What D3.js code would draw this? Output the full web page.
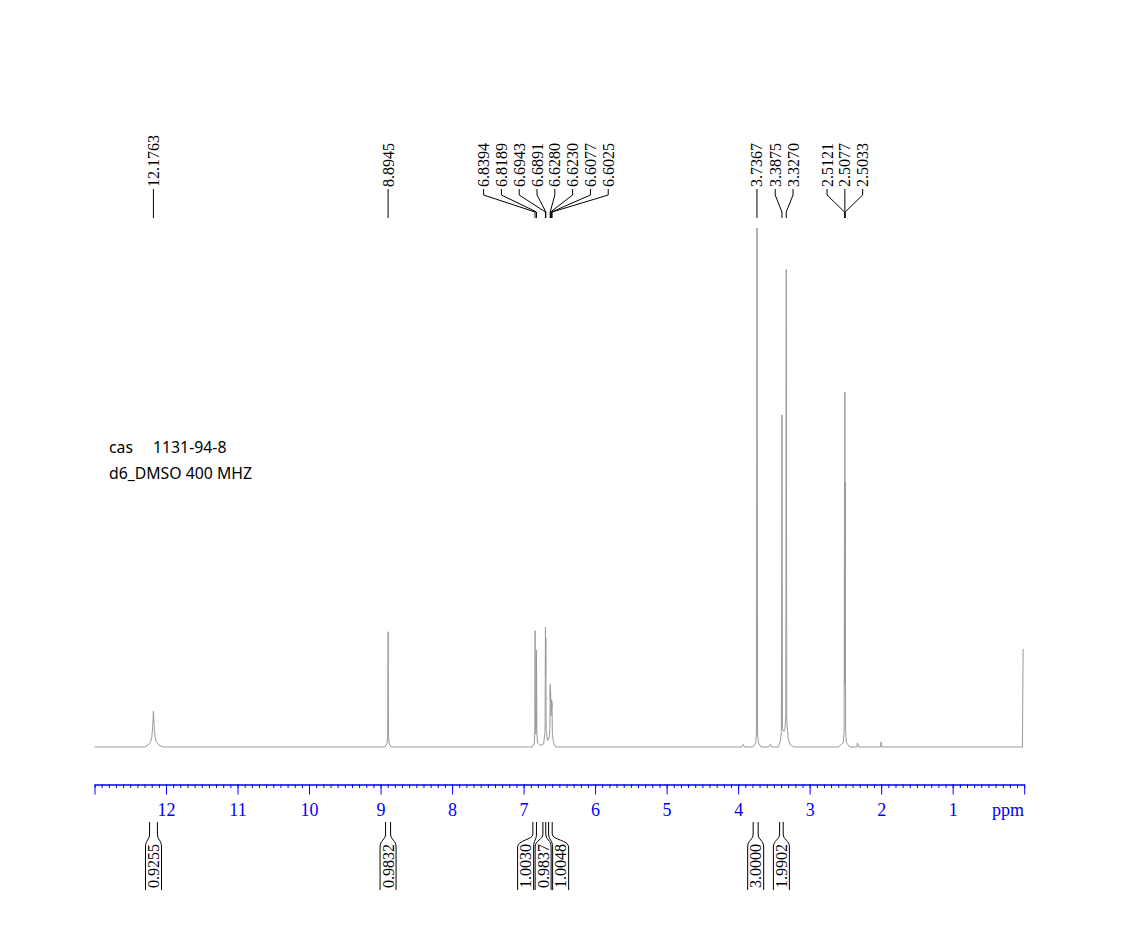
<!DOCTYPE html>
<html><head><meta charset="utf-8">
<script src="https://cdn.jsdelivr.net/npm/d3@7"></script>
<style>body{margin:0;background:#fff} svg{display:block}</style>
</head><body>
<svg id="c" width="1148" height="952"></svg>
<script>
// ---- data ----
const spectrum = [
 [13.00,0],[12.30,0],[12.25,0.4],[12.215,1.0],[12.198,2.0],[12.186,4],[12.176,6.9],[12.166,4],[12.154,2.0],[12.137,1.0],[12.10,0.4],[12.04,0],
 [8.94,0],[8.91,0.6],[8.90,2],[8.8945,22.2],[8.889,2],[8.878,0.6],[8.85,0],
 [6.88,0],[6.85,0.8],[6.843,3],[6.8394,22.4],[6.834,4],[6.8275,2.5],[6.822,4],[6.8189,18.7],[6.815,3],[6.805,0.8],[6.77,0.3],
 [6.72,0.6],[6.70,3],[6.6943,23.1],[6.6917,14],[6.6891,21],[6.684,3],[6.665,1.2],[6.64,2],[6.632,4],[6.6280,12.1],[6.6255,9],[6.6230,11],[6.616,6],[6.6077,9.1],[6.605,7.5],[6.6025,8.5],[6.598,2.5],[6.58,0.8],[6.55,0],
 [3.95,0],[3.93,0.5],[3.91,0],
 [3.79,0],[3.755,0.8],[3.745,2.5],[3.7367,100],[3.728,2.5],[3.716,0.8],[3.68,0],
 [3.57,0],[3.55,0.5],[3.53,0],
 [3.44,0],[3.41,1],[3.395,3],[3.3875,64],[3.380,3.5],[3.36,3],[3.345,3.5],[3.334,6],[3.3270,92],[3.320,5],[3.30,1.5],[3.27,0.4],[3.22,0],
 [2.60,0],[2.53,0.8],[2.518,3],[2.5121,51],[2.5099,12],[2.5077,68.4],[2.5055,12],[2.5033,51],[2.497,3],[2.485,0.8],[2.44,0],
 [2.345,0],[2.33,0.8],[2.315,0],
 [2.01,0],[2.0,1],[1.99,0],
 [0.025,0],[0.015,18.9]
];
const peakLabels = [12.1763, 8.8945, 6.8394, 6.8189, 6.6943, 6.6891, 6.6280, 6.6230, 6.6077, 6.6025, 3.7367, 3.3875, 3.3270, 2.5121, 2.5077, 2.5033];
const integralValues = ["0.9255","0.9832","1.0030","0.9837","1.0048","3.0000","1.9902"];
const integralFrom = [12.23, 8.93, 6.87, 6.73, 6.65, 3.79, 3.42];
const integralTo   = [12.12, 8.86, 6.82, 6.69, 6.60, 3.72, 3.37];
const axisMajorTicks = [13,12,11,10,9,8,7,6,5,4,3,2,1,0];
const axisTickLabels = ["","12","11","10","9","8","7","6","5","4","3","2","1",""];
const axisUnit = "ppm";
const annotationLine1 = ["cas", "1131-94-8"];
const annotationLine2 = "d6_DMSO 400 MHZ";

// ---- drawing ----
const svg = d3.select("#c");
const x = d3.scaleLinear().domain([13, 0]).range([94.5, 1024.2]);
const y = d3.scaleLinear().domain([0, 100]).range([747, 228]);
const serif = "'Liberation Serif','Times New Roman',serif";

// spectrum
svg.append("path")
  .datum(spectrum)
  .attr("fill","none")
  .attr("stroke","#9a9a9a")
  .attr("stroke-width",1)
  .attr("d", d3.line().x(d=>x(d[0])).y(d=>y(d[1])));

// axis
const axisY = 784.5;
const gMinor = svg.append("g").attr("transform",`translate(0,${axisY})`)
  .call(d3.axisBottom(x).tickValues(d3.range(0,131).map(i=>i/10)).tickSize(3.5).tickFormat("").tickSizeOuter(0));
const gMajor = svg.append("g").attr("transform",`translate(0,${axisY})`)
  .call(d3.axisBottom(x).tickValues(axisMajorTicks).tickSize(10).tickPadding(8.5)
        .tickFormat((d,i)=>axisTickLabels[i]).tickSizeOuter(0));
[gMinor,gMajor].forEach(g=>{
  g.selectAll("path,line").attr("stroke","#0000ff").attr("stroke-width",1);
  g.selectAll("text").attr("fill","#0000ff").style("font-family",serif).style("font-size","18px");
});
svg.append("text").attr("x",1024).attr("y",816).attr("text-anchor","end")
  .attr("fill","#0000ff").style("font-family",serif).style("font-size","18px").text(axisUnit);

// label spreading
function spread(targets, gap){
  let clusters = targets.map((t,i)=>({idx:[i], c:t}));
  let changed = true;
  while(changed){
    changed = false;
    clusters.sort((a,b)=>a.c-b.c);
    for(let k=0;k<clusters.length-1;k++){
      const a=clusters[k], b=clusters[k+1];
      const aEnd = a.c + (a.idx.length-1)/2*gap;
      const bStart = b.c - (b.idx.length-1)/2*gap;
      if(bStart - aEnd < gap - 0.01){
        const idx = a.idx.concat(b.idx);
        const c = d3.mean(idx, i=>targets[i]);
        clusters.splice(k,2,{idx, c});
        changed = true; break;
      }
    }
  }
  const out = new Array(targets.length);
  clusters.forEach(cl=>{
    const s = cl.idx.slice().sort((p,q)=>targets[p]-targets[q]);
    s.forEach((i,j)=>{ out[i] = cl.c + (j-(s.length-1)/2)*gap; });
  });
  return out;
}

// peak labels
const peakX = peakLabels.map(p=>x(p));
const peakLX = spread(peakX, 17.8);
const gP = svg.append("g");
peakLabels.forEach((p,i)=>{
  const lx = peakLX[i], px = peakX[i];
  gP.append("path").attr("fill","none").attr("stroke","#000").attr("stroke-width",1)
    .attr("d", `M${lx},189 V195 L${px},212 V218`);
  gP.append("text").attr("transform",`translate(${lx},187) rotate(-90)`)
    .attr("dominant-baseline","central").attr("text-anchor","start")
    .style("font-family",serif).style("font-size","16px").attr("fill","#000")
    .text(p.toFixed(4));
});

// integrals
const intC = integralFrom.map((f,i)=>(x(f)+x(integralTo[i]))/2);
const intLX = spread(intC, 17.5);
const gI = svg.append("g");
const hw = 8;
integralValues.forEach((v,i)=>{
  const x1 = x(integralFrom[i]), x2 = x(integralTo[i]), lx = intLX[i];
  gI.append("path").attr("fill","none").attr("stroke","#000").attr("stroke-width",1)
    .attr("d", `M${x1},822 V834 C${x1},840 ${lx-hw},840 ${lx-hw},847 V890`);
  gI.append("path").attr("fill","none").attr("stroke","#000").attr("stroke-width",1)
    .attr("d", `M${x2},822 V834 C${x2},840 ${lx+hw},840 ${lx+hw},847 V890`);
  gI.append("text").attr("transform",`translate(${lx},888) rotate(-90)`)
    .attr("dominant-baseline","central").attr("text-anchor","start")
    .style("font-family",serif).style("font-size","16px").attr("fill","#000")
    .text(v);
});

// annotation
const sans = "'Noto Sans','Open Sans',sans-serif";
const fs = "15.8px";
svg.append("text").attr("x",109).attr("y",453).style("font-family",sans).style("font-size",fs).text(annotationLine1[0]);
svg.append("text").attr("x",153).attr("y",453).style("font-family",sans).style("font-size",fs).text(annotationLine1[1]);
svg.append("text").attr("x",109).attr("y",479).style("font-family",sans).style("font-size",fs).text(annotationLine2);
</script>
</body></html>
